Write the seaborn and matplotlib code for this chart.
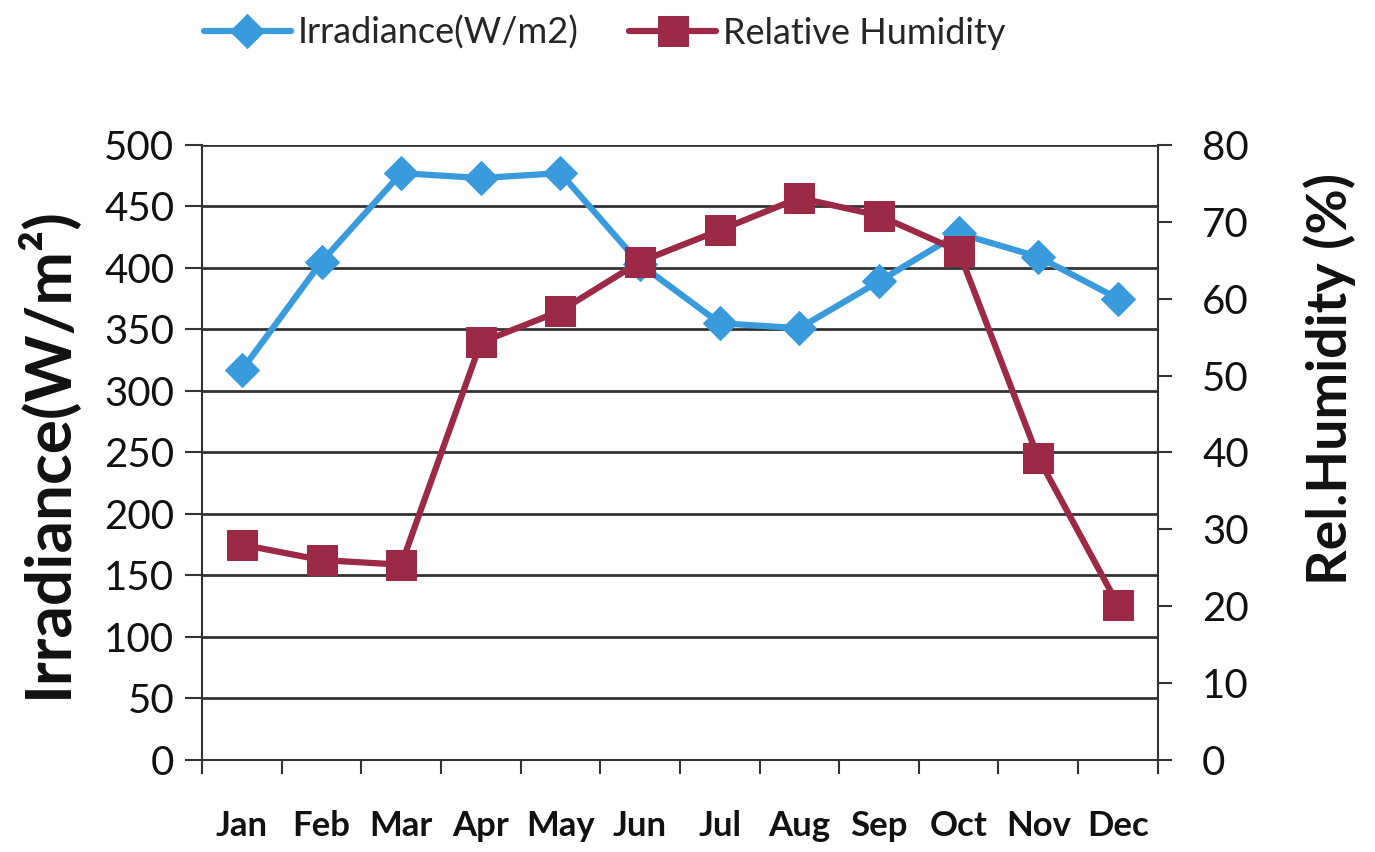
import numpy as np
import pandas as pd
import matplotlib
matplotlib.use("Agg")
import matplotlib.pyplot as plt
import seaborn as sns


# =========================
# Data
# =========================

MONTHS = ["Jan", "Feb", "Mar", "Apr", "May", "Jun",
          "Jul", "Aug", "Sep", "Oct", "Nov", "Dec"]
IRRADIANCE = [317, 405, 477, 473, 477, 403, 355, 351, 389, 428, 409, 375]
HUMIDITY = [28.0, 26.0, 25.4, 54.3, 58.4, 64.8, 68.9, 73.1, 70.8, 66.2, 39.3, 20.2]

LEFT_TICKS = list(range(0, 501, 50))
RIGHT_TICKS = list(range(0, 81, 10))

# =========================
# Style
# =========================

BLUE = "#3A9BDC"
MAROON = "#9C2A47"
GRID = "#333333"
TEXT = "#111111"

sns.set_theme(style="white")
plt.rcParams["font.family"] = ["Lato", "DejaVu Sans"]

df = pd.DataFrame({"Month": MONTHS, "Irradiance": IRRADIANCE, "Humidity": HUMIDITY})

fig = plt.figure(figsize=(13.75, 8.52), dpi=100)
ax = fig.add_axes([0.147, 0.108, 0.695, 0.722])
ax2 = ax.twinx()

# -------------------------
# Lines
# -------------------------
sns.lineplot(data=df, x="Month", y="Irradiance", ax=ax, color=BLUE,
             linewidth=4.5, marker="D", markersize=17, markeredgecolor=BLUE,
             legend=False, zorder=3)
sns.lineplot(data=df, x="Month", y="Humidity", ax=ax2, color=MAROON,
             linewidth=4.5, marker="s", markersize=21, markeredgecolor=MAROON,
             legend=False, zorder=4)

# -------------------------
# Axes
# -------------------------
ax.set_xlim(-0.5, 11.5)
ax.set_ylim(0, 500)
ax2.set_ylim(0, 80)

ax.set_yticks(LEFT_TICKS)
ax2.set_yticks(RIGHT_TICKS)
ax.set_xticks(range(len(MONTHS)))
ax.set_xticklabels(MONTHS, fontsize=25, fontweight="bold", color=TEXT)
ax.set_xticks(np.arange(-0.5, 12, 1), minor=True)

ax.yaxis.grid(True, color=GRID, linewidth=2)
ax.set_axisbelow(True)

ax.spines["top"].set_visible(False)
ax2.spines["top"].set_visible(False)
ax2.spines["left"].set_visible(False)
ax.spines["right"].set_visible(False)
ax2.spines["bottom"].set_visible(False)
for sp in [ax.spines["left"], ax.spines["bottom"], ax2.spines["right"]]:
    sp.set_color(GRID)
    sp.set_linewidth(1.5)

ax.tick_params(axis="x", which="major", length=0, pad=36)
ax.tick_params(axis="x", which="minor", bottom=True, length=10, width=1.5, color=GRID)
ax.tick_params(axis="y", left=True, length=12, width=1.5, color=GRID, pad=8,
               labelsize=29, labelcolor=TEXT)
ax2.tick_params(axis="y", right=True, length=10, width=1.5, color=GRID, pad=22,
                labelsize=29, labelcolor=TEXT)

ax.set_xlabel("")
ax.set_ylabel("Irradiance(W/m²)", fontsize=46, fontweight="bold", color=TEXT)
ax.yaxis.label.set_verticalalignment("center")
ax.yaxis.set_label_coords(-0.164, 0.5)
ax2.set_ylabel("Rel.Humidity (%)", fontsize=40, fontweight="bold", color=TEXT,
               rotation=90)
ax2.yaxis.label.set_verticalalignment("center")
ax2.yaxis.set_label_coords(1.18, 0.62)

# -------------------------
# Legend
# -------------------------
handles = ax.get_lines()[:1] + ax2.get_lines()[:1]
fig.legend(handles, ["Irradiance(W/m2)", "Relative Humidity"],
           loc="upper center", bbox_to_anchor=(0.44, 1.02), ncol=2,
           frameon=False, fontsize=26, handlelength=2.4, columnspacing=1.4,
           handletextpad=0.2)

fig.savefig("out.png", dpi=100, facecolor="white")
